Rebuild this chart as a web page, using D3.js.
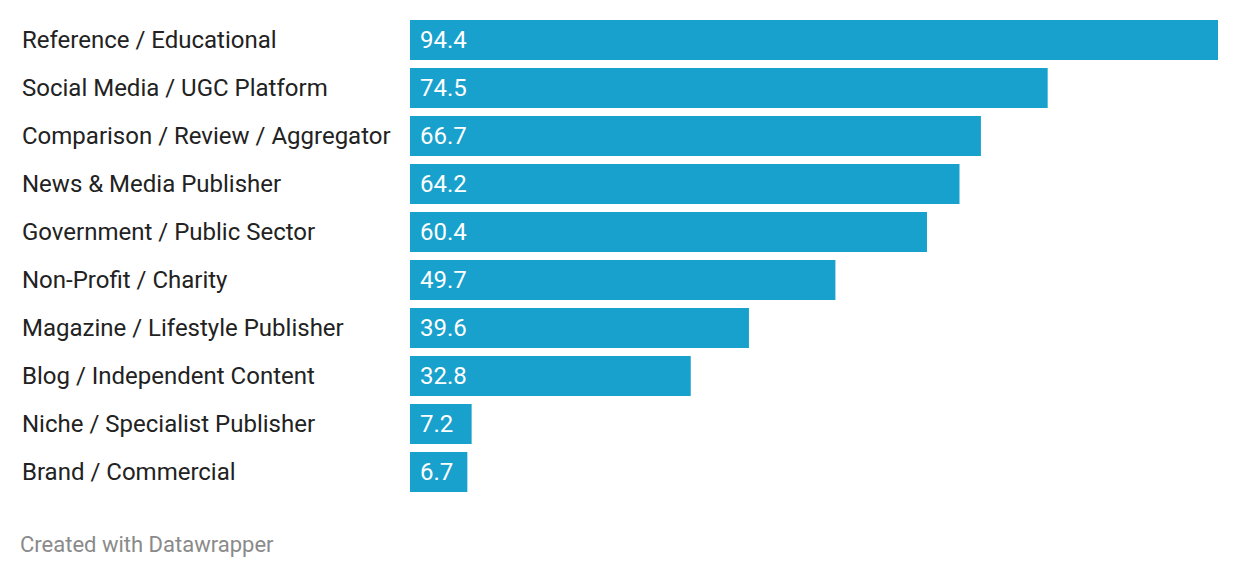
<!DOCTYPE html>
<html><head><meta charset="utf-8">
<script src="https://cdn.jsdelivr.net/npm/d3@7"></script>
<style>body{margin:0;background:#fff;}svg{display:block;font-family:Roboto,sans-serif;}</style>
</head><body><svg id="c" width="1240" height="578"></svg>
<script>
const categories = ["Reference / Educational","Social Media / UGC Platform","Comparison / Review / Aggregator","News & Media Publisher","Government / Public Sector","Non-Profit / Charity","Magazine / Lifestyle Publisher","Blog / Independent Content","Niche / Specialist Publisher","Brand / Commercial"];
const values = [94.4,74.5,66.7,64.2,60.4,49.7,39.6,32.8,7.2,6.7];

const svg = d3.select("#c");
const x = d3.scaleLinear().domain([0,94.4]).range([410,1218]);
const yb = d3.scaleBand().domain(categories).range([20,20+48*categories.length-8]).paddingInner(8/48).paddingOuter(0);

const rows = svg.append("g").selectAll("g").data(categories.map((c,i)=>({c,v:values[i]}))).join("g");
rows.append("rect").attr("x",x(0)).attr("y",d=>yb(d.c)).attr("height",yb.bandwidth())
  .attr("width",d=>x(d.v)-x(0)).attr("fill","#18a1cd");
rows.append("text").attr("x",22).attr("y",d=>yb(d.c)+yb.bandwidth()/2).attr("dy","0.35em")
  .attr("font-size",24).attr("fill","#222").text(d=>d.c);
rows.append("text").attr("x",x(0)+10).attr("y",d=>yb(d.c)+yb.bandwidth()/2).attr("dy","0.35em")
  .attr("font-size",24).attr("fill","#fff").text(d=>d3.format(".1f")(d.v));
svg.append("text").attr("x",20).attr("y",552).attr("font-size",22).attr("fill","#8a8a8a").text("Created with Datawrapper");
</script></body></html>
